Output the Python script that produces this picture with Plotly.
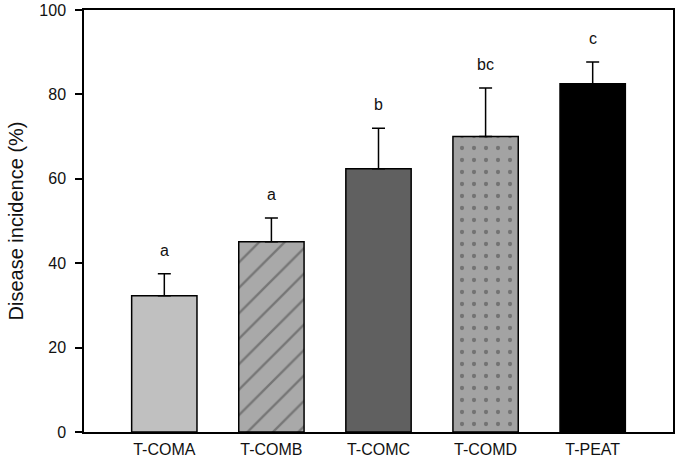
import plotly.graph_objects as go

categories = ["T-COMA", "T-COMB", "T-COMC", "T-COMD", "T-PEAT"]
means = [32.3, 45.1, 62.4, 70.0, 82.5]
errors = [5.2, 5.6, 9.6, 11.5, 5.2]
letters = ["a", "a", "b", "bc", "c"]
y_ticks = [0, 20, 40, 60, 80, 100]

fill_colors = ["#c0c0c0", "#a9a9a9", "#606060", "#a3a3a3", "#000000"]
pattern_shapes = ["", "/", "", ".", ""]

fig = go.Figure()
fig.add_trace(go.Bar(
    x=categories,
    y=means,
    width=0.61,
    marker=dict(
        color=fill_colors,
        line=dict(color="#000000", width=1.5),
        pattern=dict(shape=pattern_shapes, fgcolor="#000000",
                     size=[10, 18, 10, 12, 10], solidity=[0.2, 0.13, 0.2, 0.1, 0.2],
                     fillmode="overlay"),
    ),
    error_y=dict(type="data", symmetric=False, array=errors,
                 arrayminus=[0] * len(errors), color="#000000",
                 thickness=1.5, width=6.5),
    showlegend=False,
))

for c, m, e, t in zip(categories, means, errors, letters):
    fig.add_annotation(x=c, y=m + e, text=t, showarrow=False,
                       yanchor="bottom", yshift=13,
                       font=dict(family="Liberation Sans, Arial", size=16, color="#111111"))

fig.update_layout(
    width=682, height=459,
    margin=dict(l=84, r=9, t=10, b=27),
    paper_bgcolor="white", plot_bgcolor="white",
    font=dict(family="Liberation Sans, Arial", size=16, color="#111111"),
)
fig.update_xaxes(
    range=[-0.75, 4.75], showline=True, linecolor="#000000", linewidth=1.5,
    mirror=True, ticks="", showgrid=False, ticklabelstandoff=2,
    tickfont=dict(size=16), automargin=False,
)
fig.update_yaxes(
    range=[0, 100], tickvals=y_ticks, showline=True, linecolor="#000000",
    linewidth=1.5, mirror=True, ticks="outside", ticklen=7, tickwidth=1.5,
    tickcolor="#000000", showgrid=False, zeroline=False, ticklabelstandoff=6,
    title=dict(text="Disease incidence (%)", font=dict(size=20), standoff=10),
    tickfont=dict(size=16), automargin=False,
)

fig.write_html("out.html", config={"displayModeBar": False},
               post_script="document.body.style.margin='0';")
